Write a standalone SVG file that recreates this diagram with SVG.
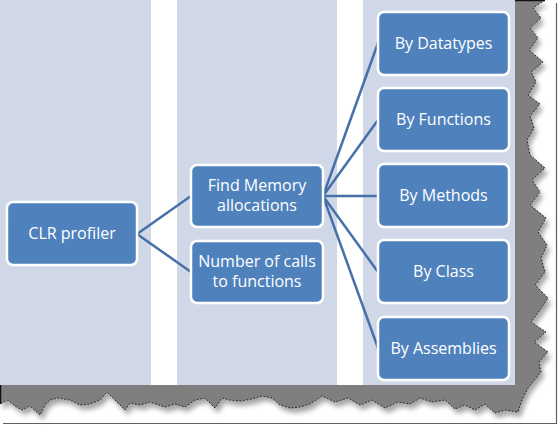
<svg xmlns="http://www.w3.org/2000/svg" width="559" height="427" viewBox="0 0 559 427">
<defs>
<style>
.col{fill:#d0d8e8}
.node rect{fill:#4f81bd;stroke:#ffffff;stroke-width:2.5}
.node text{font-family:"Open Sans","Noto Sans",sans-serif;font-size:16px;fill:#ffffff;text-anchor:middle}
.conn path{fill:none;stroke:#4670a8;stroke-width:2.5}
.edge{fill:none;stroke:#2a2a2a;stroke-width:1;stroke-dasharray:2 1.5}
</style>
<filter id="sh" x="-10%" y="-10%" width="130%" height="130%">
<feDropShadow dx="3" dy="5" stdDeviation="2.5" flood-color="#000" flood-opacity="0.35"/>
</filter>
</defs>
<rect width="559" height="427" fill="#ffffff"/>
<path d="M3,423.5H556.5V3" fill="none" stroke="#606060" stroke-width="1.2"/>
<g id="torn">
<path filter="url(#sh)" fill="#7f7f7f" d="M0,385H515V0H545L533,8L541,18L530,28L538,38L529,50L543,62L531,72L536,82L528,95L540,104L530,116L534,128L527,140L530,155L545,168L532,180L540,192L530,205L546,218L538,232L547,245L541,258L545,272L535,285L548,298L540,310L531,322L546,332L534,342L548,352L539,362L541,372L528,388L522,400L518,412L505,410L495,413L485,404L475,410L465,405L455,409L445,400L432,402L420,398L410,404L398,402L385,408L372,400L360,405L348,398L335,402L322,396L310,404L300,407L290,408L280,405L272,398L262,396L252,399L240,401L230,400L222,398L215,408L205,398L195,400L185,407L175,404L165,407L150,402L140,405L130,403L125,410L115,400L107,392L100,400L90,404L80,405L70,400L58,398L50,400L45,405L40,415L30,406L22,410L15,406L8,400L0,404Z"/>
<path class="edge" d="M545,0L533,8L541,18L530,28L538,38L529,50L543,62L531,72L536,82L528,95L540,104L530,116L534,128L527,140L530,155L545,168L532,180L540,192L530,205L546,218L538,232L547,245L541,258L545,272L535,285L548,298L540,310L531,322L546,332L534,342L548,352L539,362L541,372L528,388L522,400L518,412L505,410L495,413L485,404L475,410L465,405L455,409L445,400L432,402L420,398L410,404L398,402L385,408L372,400L360,405L348,398L335,402L322,396L310,404L300,407L290,408L280,405L272,398L262,396L252,399L240,401L230,400L222,398L215,408L205,398L195,400L185,407L175,404L165,407L150,402L140,405L130,403L125,410L115,400L107,392L100,400L90,404L80,405L70,400L58,398L50,400L45,405L40,415L30,406L22,410L15,406L8,400L0,404"/>
<path d="M515,0.5H545M0.5,385V404" stroke="#111" stroke-width="1.5" fill="none"/>
</g>
<g id="columns">
<rect class="col" x="0" y="0" width="151" height="385"/>
<rect class="col" x="177" y="0" width="160" height="385"/>
<rect class="col" x="363" y="0" width="152" height="385"/>
</g>
<g class="conn" id="connectors">
<path d="M137,234L191,196"/>
<path d="M137,234L191,272"/>
<path d="M323,196L378,43"/>
<path d="M323,196L378,120"/>
<path d="M323,196L378,196"/>
<path d="M323,196L378,272"/>
<path d="M323,196L378,348"/>
</g>
<g class="node" id="clr"><rect x="7" y="202" width="130" height="63" rx="6"/><text x="72" y="239">CLR profiler</text></g>
<g class="node" id="findmem"><rect x="191" y="165" width="132" height="62" rx="6"/><text x="257" y="191">Find Memory</text><text x="257" y="211">allocations</text></g>
<g class="node" id="numcalls"><rect x="191" y="241" width="132" height="62" rx="6"/><text x="257" y="267">Number of calls</text><text x="257" y="287">to functions</text></g>
<g class="node" id="datatypes"><rect x="378" y="12" width="131" height="63" rx="6"/><text x="443.5" y="49">By Datatypes</text></g>
<g class="node" id="functions"><rect x="378" y="88" width="131" height="63" rx="6"/><text x="443.5" y="125">By Functions</text></g>
<g class="node" id="methods"><rect x="378" y="164" width="131" height="63" rx="6"/><text x="443.5" y="201">By Methods</text></g>
<g class="node" id="class"><rect x="378" y="240" width="131" height="63" rx="6"/><text x="443.5" y="277">By Class</text></g>
<g class="node" id="assemblies"><rect x="378" y="317" width="131" height="63" rx="6"/><text x="443.5" y="354">By Assemblies</text></g>
</svg>
